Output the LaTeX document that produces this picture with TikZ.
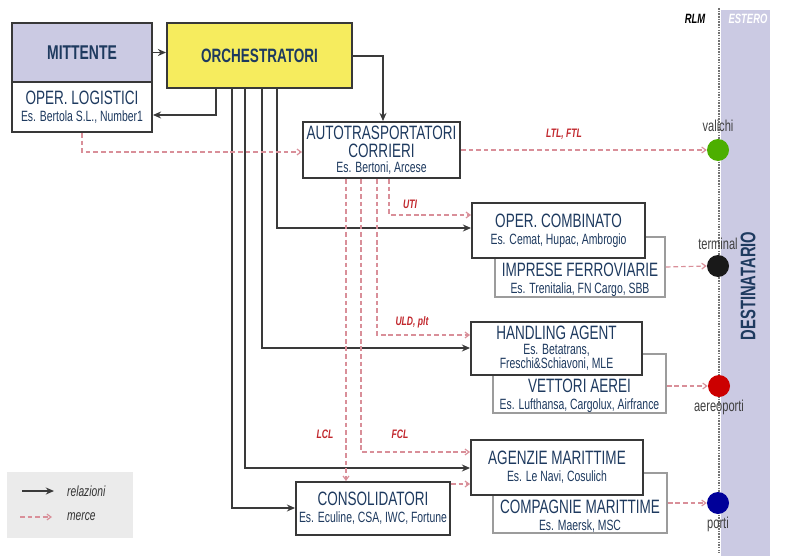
\documentclass[tikz,border=0pt]{standalone}
\usepackage{fontspec}
\setmainfont{Liberation Sans}[FakeStretch=0.7]
\usetikzlibrary{arrows.meta}

\definecolor{lav}{HTML}{CBCAE3}
\definecolor{giallo}{HTML}{F6EC5E}
\definecolor{navy}{HTML}{1E3A5F}
\definecolor{boxline}{HTML}{383838}
\definecolor{backline}{HTML}{9C9C9C}
\definecolor{relline}{HTML}{3A3A3A}
\definecolor{merceline}{HTML}{D98F99}
\definecolor{flowred}{HTML}{C1272D}
\definecolor{legendgray}{HTML}{EBEBEB}

\newcommand\boxtitle{\fontsize{16.5}{14.5}\selectfont}
\newcommand\boxsub{\fontsize{12.7}{14.5}\selectfont}

\tikzset{
  frontbox/.style={draw=boxline, line width=1.6pt, fill=white, text=navy, align=center, inner sep=1pt,
    font=\fontsize{12.7}{14.5}\selectfont},
  backbox/.style={draw=backline, line width=1.4pt, fill=white},
  backtext/.style={anchor=south, inner sep=1pt, yshift=0pt, align=center, text=navy, font=\fontsize{12.7}{14.5}\selectfont},
  rel/.style={draw=relline, line width=1.4pt, -{Stealth[length=7pt,width=6pt]}},
  merce/.style={draw=merceline, line width=1pt, dash pattern=on 4pt off 2.5pt, -{Straight Barb[length=3.5pt,width=5pt]}},
  flow/.style={text=flowred, font=\fontsize{10.5}{11}\selectfont\bfseries\itshape},
  hub/.style={circle, minimum size=0.66cm, inner sep=0pt},
  hublbl/.style={text=black!75, font=\fontsize{13.5}{13}\selectfont, inner sep=1pt},
  legtext/.style={text=black!80, font=\fontsize{12.5}{13}\selectfont\itshape, anchor=west},
}

\begin{document}
\begin{tikzpicture}[x=0.03cm, y=-0.03cm]
\useasboundingbox (0,0) rectangle (806,560);

% estero
\fill[lav] (721,10) rectangle (770,556);
\draw[black!55, line width=1.3pt, densely dotted] (719,8) -- (719,553);
\node[font=\fontsize{11.5}{12}\selectfont\bfseries\itshape] (rlm) at (695,19) {RLM};
\node[font=\fontsize{11.5}{12}\selectfont\bfseries\itshape, text=white] (estero) at (748,19) {ESTERO};
\node[rotate=90, text=navy, font=\fontsize{18}{18}\selectfont\bfseries] (dest) at (748,286) {DESTINATARIO};

% boxes
\node[frontbox, fill=lav, minimum width=4.2cm, minimum height=1.77cm] (mitt) at (82,52.5)
  {\bfseries\fontsize{17}{18}\selectfont MITTENTE};
\node[frontbox, minimum width=4.2cm, minimum height=1.5cm] (oplog) at (82,107)
  {\boxtitle OPER. LOGISTICI\\\boxsub Es. Bertola S.L., Number1};
\node[frontbox, fill=giallo, minimum width=5.55cm, minimum height=1.95cm] (orch) at (259.5,55.5)
  {\bfseries\fontsize{16.5}{18}\selectfont ORCHESTRATORI};
\node[frontbox, minimum width=4.71cm, minimum height=1.68cm] (auto) at (381.5,150)
  {\boxtitle AUTOTRASPORTATORI\\[1pt]\boxtitle CORRIERI\\[-2pt]\boxsub Es. Bertoni, Arcese};

\node[backbox, minimum width=5.1cm, minimum height=1.8cm,
  label={[backtext]south:{\boxtitle IMPRESE FERROVIARIE\\\boxsub Es. Trenitalia, FN Cargo, SBB}}] (impr) at (580,267) {};
\node[frontbox, minimum width=5.19cm, minimum height=1.65cm] (comb) at (558.5,230.5)
  {\boxtitle OPER. COMBINATO\\\boxsub Es. Cemat, Hupac, Ambrogio};

\node[backbox, minimum width=5.19cm, minimum height=1.77cm,
  label={[backtext]south:{\boxtitle VETTORI AEREI\\\boxsub Es. Lufthansa, Cargolux, Airfrance}}] (vett) at (579.5,383.5) {};
\node[frontbox, minimum width=5.13cm, minimum height=1.59cm] (hand) at (556.5,348.5)
  {\boxtitle HANDLING AGENT\\[-2pt]\boxsub Es. Betatrans,\\[-2pt]\boxsub Freschi\&Schiavoni, MLE};

\node[backbox, minimum width=5.22cm, minimum height=1.8cm,
  label={[backtext]south:{\boxtitle COMPAGNIE MARITTIME\\\boxsub Es. Maersk, MSC}}] (comp) at (580,503) {};
\node[frontbox, minimum width=5.16cm, minimum height=1.65cm] (agen) at (557,467.5)
  {\boxtitle AGENZIE MARITTIME\\\boxsub Es. Le Navi, Cosulich};

\node[frontbox, minimum width=4.62cm, minimum height=1.59cm] (cons) at (373,508.5)
  {\boxtitle CONSOLIDATORI\\\boxsub Es. Eculine, CSA, IWC, Fortune};

% destinazioni
\node[hub, fill=green!55!black!70!yellow, label={[hublbl, label distance=5pt]above:valichi}] (valichi) at (718,150) {};
\node[hub, fill=black!90, label={[hublbl, label distance=3pt]above:terminal}] (terminal) at (718,266) {};
\node[hub, fill=red!80!black, label={[hublbl, label distance=1.5pt]below:aereoporti}] (aereo) at (719,386) {};
\node[hub, fill=blue!60!black, label={[hublbl, label distance=1.5pt]below:porti}] (porti) at (718,503) {};

% relazioni
\draw[rel] (mitt.east) -- (mitt.east -| orch.west);
\draw[rel] (orch.south -| 216,0) |- (oplog.east |- 0,115);
\draw[rel] (orch.east |- 0,56) -| (auto.north -| 383,0);
\draw[rel] (orch.south -| 277,0) |- (comb.west |- 0,228);
\draw[rel] (orch.south -| 262,0) |- (hand.west |- 0,348);
\draw[rel] (orch.south -| 245,0) |- (agen.west |- 0,468);
\draw[rel] (orch.south -| 232,0) |- (cons.west |- 0,508);

% merce
\draw[merce] (oplog.south -| 82,0) |- (auto.west |- 0,152);
\draw[merce] (auto.east) -- (valichi.west);
\draw[merce] (auto.south -| 389,0) |- (comb.west |- 0,215);
\draw[merce] (auto.south -| 377,0) |- (hand.west |- 0,335);
\draw[merce] (auto.south -| 361,0) |- (agen.west |- 0,452);
\draw[merce] (auto.south -| 346,0) -- (cons.north -| 346,0);
\draw[merce] (cons.east |- 0,484) -- (agen.west |- 0,484);
\draw[merce] (impr.east) -- (terminal.west);
\draw[merce] (vett.east |- aereo) -- (aereo.west);
\draw[merce] (comp.east) -- (porti.west);

\node[flow] (ltl) at (564,134) {LTL, FTL};
\node[flow] (uti) at (410,204) {UTI};
\node[flow] (uld) at (412,322) {ULD, plt};
\node[flow] (lcl) at (325,434) {LCL};
\node[flow] (fcl) at (400,434) {FCL};

% legenda
\node[fill=legendgray, minimum width=3.78cm, minimum height=1.98cm] (legend) at (70,505) {};
\coordinate (r1) at (22,491);
\coordinate (r2) at (54,491);
\coordinate (m1) at (20,517);
\coordinate (m2) at (52,517);
\draw[rel] (r1) -- (r2);
\draw[merce] (m1) -- (m2);
\node[legtext] (lrel) at (63,491) {relazioni};
\node[legtext] (lmer) at (63,517) {merce};
\end{tikzpicture}
\end{document}
